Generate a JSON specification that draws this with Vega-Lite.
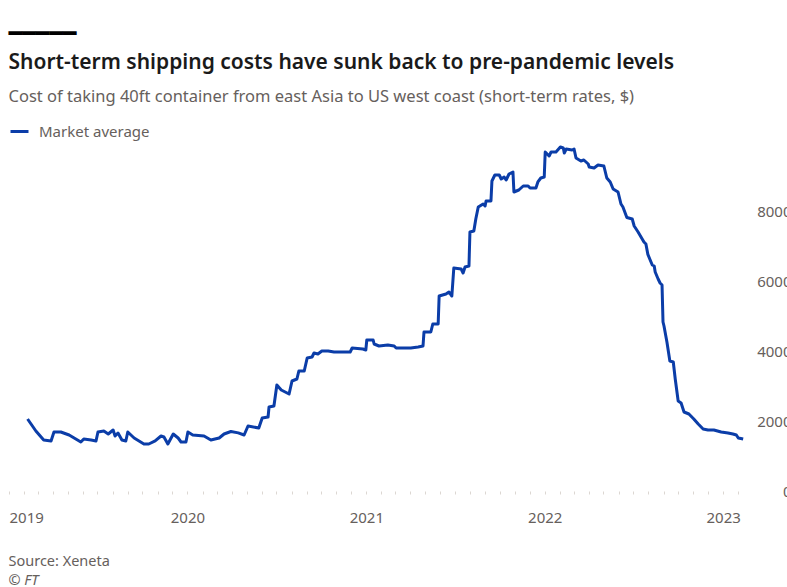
{
  "$schema": "https://vega.github.io/schema/vega-lite/v6.json",
  "background": "white",
  "padding": {"left": 8, "top": 23, "right": 0, "bottom": 0},
  "config": {
    "view": {"stroke": null},
    "font": "Noto Sans",
    "concat": {"spacing": 0}
  },
  "title": {
    "text": "Source: Xeneta",
    "subtitle": "© FT",
    "orient": "bottom",
    "anchor": "start",
    "font": "Noto Sans",
    "fontSize": 14.5,
    "fontWeight": "normal",
    "color": "#66605c",
    "subtitleFont": "Noto Sans",
    "subtitleFontSize": 14.5,
    "subtitleFontStyle": "italic",
    "subtitleColor": "#66605c",
    "subtitlePadding": 4,
    "offset": 30
  },
  "vconcat": [
    {
      "title": {
        "text": "━━━━━",
        "anchor": "start",
        "font": "DejaVu Sans Mono",
        "fontSize": 22.5,
        "fontWeight": "normal",
        "color": "#000000",
        "offset": 6
      },
      "vconcat": [
        {
          "title": {
            "text": "Short-term shipping costs have sunk back to pre-pandemic levels",
            "subtitle": "Cost of taking 40ft container from east Asia to US west coast (short-term rates, $)",
            "anchor": "start",
            "font": "Noto Sans",
            "fontSize": 21,
            "fontWeight": 600,
            "color": "#1a1a1a",
            "subtitleFont": "Noto Sans",
            "subtitleFontSize": 16.5,
            "subtitleColor": "#66605c",
            "subtitlePadding": 16,
            "offset": 36
          },
          "width": 742,
          "height": 350,
          "data": {
            "values": [
              {"date": "2019-02-08", "rate": 2057},
              {"date": "2019-02-25", "rate": 1714},
              {"date": "2019-03-13", "rate": 1457},
              {"date": "2019-03-28", "rate": 1430},
              {"date": "2019-04-03", "rate": 1686},
              {"date": "2019-04-17", "rate": 1686},
              {"date": "2019-05-04", "rate": 1600},
              {"date": "2019-05-28", "rate": 1400},
              {"date": "2019-06-03", "rate": 1486},
              {"date": "2019-06-18", "rate": 1457},
              {"date": "2019-06-28", "rate": 1430},
              {"date": "2019-07-02", "rate": 1686},
              {"date": "2019-07-14", "rate": 1714},
              {"date": "2019-07-23", "rate": 1629},
              {"date": "2019-08-02", "rate": 1743},
              {"date": "2019-08-06", "rate": 1571},
              {"date": "2019-08-12", "rate": 1657},
              {"date": "2019-08-20", "rate": 1457},
              {"date": "2019-08-28", "rate": 1430},
              {"date": "2019-09-01", "rate": 1686},
              {"date": "2019-09-14", "rate": 1514},
              {"date": "2019-10-04", "rate": 1343},
              {"date": "2019-10-14", "rate": 1343},
              {"date": "2019-10-27", "rate": 1430},
              {"date": "2019-11-08", "rate": 1571},
              {"date": "2019-11-14", "rate": 1543},
              {"date": "2019-11-22", "rate": 1343},
              {"date": "2019-12-03", "rate": 1629},
              {"date": "2019-12-13", "rate": 1514},
              {"date": "2019-12-19", "rate": 1400},
              {"date": "2019-12-29", "rate": 1400},
              {"date": "2020-01-02", "rate": 1686},
              {"date": "2020-01-12", "rate": 1600},
              {"date": "2020-02-04", "rate": 1571},
              {"date": "2020-02-18", "rate": 1457},
              {"date": "2020-03-06", "rate": 1514},
              {"date": "2020-03-16", "rate": 1629},
              {"date": "2020-03-30", "rate": 1700},
              {"date": "2020-04-14", "rate": 1660},
              {"date": "2020-04-26", "rate": 1600},
              {"date": "2020-05-04", "rate": 1857},
              {"date": "2020-05-26", "rate": 1800},
              {"date": "2020-06-02", "rate": 2086},
              {"date": "2020-06-14", "rate": 2114},
              {"date": "2020-06-16", "rate": 2400},
              {"date": "2020-06-26", "rate": 2430},
              {"date": "2020-07-02", "rate": 3029},
              {"date": "2020-07-11", "rate": 2886},
              {"date": "2020-07-27", "rate": 2771},
              {"date": "2020-08-02", "rate": 3143},
              {"date": "2020-08-12", "rate": 3200},
              {"date": "2020-08-16", "rate": 3429},
              {"date": "2020-08-27", "rate": 3429},
              {"date": "2020-09-02", "rate": 3800},
              {"date": "2020-09-12", "rate": 3829},
              {"date": "2020-09-16", "rate": 3943},
              {"date": "2020-09-24", "rate": 3914},
              {"date": "2020-10-02", "rate": 4000},
              {"date": "2020-10-15", "rate": 4000},
              {"date": "2020-10-27", "rate": 3971},
              {"date": "2020-11-16", "rate": 3971},
              {"date": "2020-11-29", "rate": 3971},
              {"date": "2020-12-03", "rate": 4086},
              {"date": "2020-12-25", "rate": 4057},
              {"date": "2020-12-31", "rate": 4029},
              {"date": "2021-01-02", "rate": 4314},
              {"date": "2021-01-15", "rate": 4314},
              {"date": "2021-01-17", "rate": 4200},
              {"date": "2021-01-27", "rate": 4143},
              {"date": "2021-02-14", "rate": 4171},
              {"date": "2021-02-27", "rate": 4143},
              {"date": "2021-03-03", "rate": 4086},
              {"date": "2021-04-02", "rate": 4086},
              {"date": "2021-04-17", "rate": 4114},
              {"date": "2021-04-27", "rate": 4143},
              {"date": "2021-04-29", "rate": 4543},
              {"date": "2021-05-13", "rate": 4543},
              {"date": "2021-05-17", "rate": 4771},
              {"date": "2021-05-28", "rate": 4771},
              {"date": "2021-05-30", "rate": 5571},
              {"date": "2021-06-13", "rate": 5629},
              {"date": "2021-06-19", "rate": 5686},
              {"date": "2021-06-25", "rate": 5571},
              {"date": "2021-06-29", "rate": 6371},
              {"date": "2021-07-14", "rate": 6343},
              {"date": "2021-07-18", "rate": 6229},
              {"date": "2021-07-22", "rate": 6400},
              {"date": "2021-07-30", "rate": 6429},
              {"date": "2021-08-01", "rate": 7400},
              {"date": "2021-08-09", "rate": 7429},
              {"date": "2021-08-13", "rate": 7771},
              {"date": "2021-08-18", "rate": 8114},
              {"date": "2021-08-28", "rate": 8200},
              {"date": "2021-09-01", "rate": 8143},
              {"date": "2021-09-03", "rate": 8286},
              {"date": "2021-09-13", "rate": 8286},
              {"date": "2021-09-15", "rate": 8857},
              {"date": "2021-09-21", "rate": 9029},
              {"date": "2021-09-30", "rate": 9029},
              {"date": "2021-10-04", "rate": 8914},
              {"date": "2021-10-10", "rate": 8971},
              {"date": "2021-10-14", "rate": 8886},
              {"date": "2021-10-20", "rate": 9057},
              {"date": "2021-10-28", "rate": 9114},
              {"date": "2021-10-30", "rate": 8543},
              {"date": "2021-11-09", "rate": 8600},
              {"date": "2021-11-18", "rate": 8714},
              {"date": "2021-11-28", "rate": 8714},
              {"date": "2021-12-02", "rate": 8657},
              {"date": "2021-12-14", "rate": 8657},
              {"date": "2021-12-18", "rate": 8829},
              {"date": "2021-12-24", "rate": 8943},
              {"date": "2021-12-31", "rate": 8971},
              {"date": "2022-01-02", "rate": 9686},
              {"date": "2022-01-10", "rate": 9571},
              {"date": "2022-01-14", "rate": 9686},
              {"date": "2022-01-24", "rate": 9686},
              {"date": "2022-02-02", "rate": 9829},
              {"date": "2022-02-08", "rate": 9800},
              {"date": "2022-02-10", "rate": 9657},
              {"date": "2022-02-14", "rate": 9771},
              {"date": "2022-02-26", "rate": 9743},
              {"date": "2022-03-02", "rate": 9771},
              {"date": "2022-03-06", "rate": 9514},
              {"date": "2022-03-16", "rate": 9429},
              {"date": "2022-03-22", "rate": 9457},
              {"date": "2022-03-31", "rate": 9343},
              {"date": "2022-04-02", "rate": 9257},
              {"date": "2022-04-12", "rate": 9229},
              {"date": "2022-04-20", "rate": 9314},
              {"date": "2022-05-02", "rate": 9286},
              {"date": "2022-05-08", "rate": 8943},
              {"date": "2022-05-15", "rate": 8829},
              {"date": "2022-05-21", "rate": 8629},
              {"date": "2022-05-31", "rate": 8543},
              {"date": "2022-06-06", "rate": 8200},
              {"date": "2022-06-10", "rate": 8114},
              {"date": "2022-06-18", "rate": 7814},
              {"date": "2022-06-29", "rate": 7771},
              {"date": "2022-07-03", "rate": 7571},
              {"date": "2022-07-11", "rate": 7400},
              {"date": "2022-07-23", "rate": 7114},
              {"date": "2022-07-27", "rate": 7057},
              {"date": "2022-07-31", "rate": 6760},
              {"date": "2022-08-09", "rate": 6457},
              {"date": "2022-08-13", "rate": 6429},
              {"date": "2022-08-15", "rate": 6257},
              {"date": "2022-08-21", "rate": 6057},
              {"date": "2022-08-25", "rate": 5943},
              {"date": "2022-08-29", "rate": 5886},
              {"date": "2022-08-31", "rate": 4829},
              {"date": "2022-09-02", "rate": 4714},
              {"date": "2022-09-08", "rate": 4257},
              {"date": "2022-09-14", "rate": 3714},
              {"date": "2022-09-21", "rate": 3686},
              {"date": "2022-09-25", "rate": 3200},
              {"date": "2022-10-01", "rate": 2571},
              {"date": "2022-10-07", "rate": 2514},
              {"date": "2022-10-13", "rate": 2257},
              {"date": "2022-10-23", "rate": 2200},
              {"date": "2022-11-02", "rate": 2057},
              {"date": "2022-11-11", "rate": 1914},
              {"date": "2022-11-21", "rate": 1771},
              {"date": "2022-12-01", "rate": 1743},
              {"date": "2022-12-13", "rate": 1743},
              {"date": "2022-12-28", "rate": 1686},
              {"date": "2023-01-11", "rate": 1657},
              {"date": "2023-01-21", "rate": 1629},
              {"date": "2023-01-28", "rate": 1600},
              {"date": "2023-02-01", "rate": 1514},
              {"date": "2023-02-11", "rate": 1486}
            ]
          },
          "mark": {"type": "line", "strokeWidth": 3, "strokeJoin": "round"},
          "encoding": {
            "x": {
              "field": "date",
              "type": "temporal",
              "scale": {
                "type": "utc",
                "domain": [
                  {"year": 2019, "month": 1, "date": 1, "utc": true},
                  {"year": 2023, "month": 2, "date": 27, "utc": true}
                ]
              },
              "axis": {
                "title": null,
                "domain": false,
                "grid": false,
                "ticks": true,
                "tickSize": 3,
                "tickWidth": 1,
                "tickColor": "#dcd7d2",
                "tickCount": {"interval": "month", "step": 1},
                "labelExpr": "utcFormat(datum.value, '%m') == '01' ? utcFormat(datum.value, '%Y') : ''",
                "labelOverlap": false,
                "labelFlush": true,
                "labelFont": "Noto Sans",
                "labelFontSize": 15,
                "labelColor": "#66605c",
                "labelPadding": 16
              }
            },
            "y": {
              "field": "rate",
              "type": "quantitative",
              "scale": {"domain": [0, 10000], "nice": false},
              "axis": {
                "orient": "right",
                "title": null,
                "domain": false,
                "grid": false,
                "ticks": false,
                "tickSize": 0,
                "values": [0, 2000, 4000, 6000, 8000],
                "format": "d",
                "labelAlign": "right",
                "labelBaseline": "middle",
                "labelPadding": 40,
                "labelFont": "Noto Sans",
                "labelFontSize": 15,
                "labelColor": "#66605c"
              }
            },
            "color": {
              "datum": "Market average",
              "type": "nominal",
              "scale": {"range": ["#0b3da8"]},
              "legend": {
                "title": null,
                "orient": "none",
                "legendX": 0,
                "legendY": -20,
                "padding": 0,
                "symbolType": "stroke",
                "symbolSize": 324,
                "symbolStrokeWidth": 3,
                "labelOffset": 9,
                "labelFont": "Noto Sans",
                "labelFontSize": 15,
                "labelColor": "#66605c"
              }
            }
          }
        }
      ]
    }
  ]
}
